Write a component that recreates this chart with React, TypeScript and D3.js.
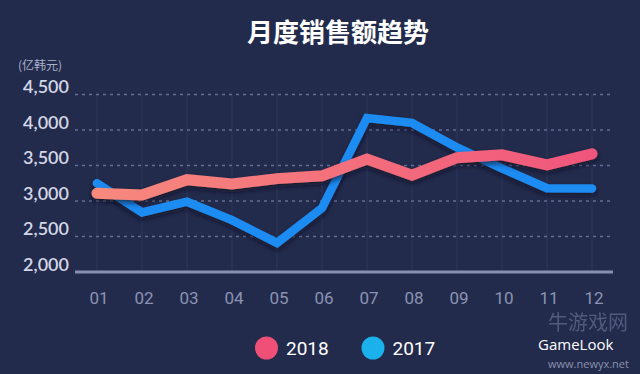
import React from "react";
import * as d3 from "d3";

const months = ["01", "02", "03", "04", "05", "06", "07", "08", "09", "10", "11", "12"];
const sales2018 = [3110, 3085, 3300, 3240, 3315, 3355, 3590, 3365, 3610, 3650, 3510, 3665];
const sales2017 = [3250, 2840, 2990, 2730, 2410, 2900, 4170, 4100, 3755, 3460, 3180, 3175];
const yTicks = [2000, 2500, 3000, 3500, 4000, 4500];
const title = "月度销售额趋势";
const unit = "(亿韩元)";
const legendItems = [
  { label: "2018", color: "#f04f78" },
  { label: "2017", color: "#1bb1ec" },
];

const W = 640;
const H = 374;
const BG = "#232b4c";

export default function App() {
  const x = d3.scalePoint<string>().domain(months).range([97, 592]);
  const y = d3.scaleLinear().domain([2000, 4500]).range([272, 94.5]);
  const line = d3
    .line<number>()
    .x((_, i) => x(months[i]) as number)
    .y((d) => y(d));
  const fmt = d3.format(",");

  return (
    <svg
      width={W}
      height={H}
      style={{ position: "absolute", left: 0, top: 0, display: "block" }}
    >
      <defs>
        <linearGradient id="pinkGrad" gradientUnits="userSpaceOnUse" x1={97} x2={592} y1={0} y2={0}>
          <stop offset="0%" stopColor="#f7897d" />
          <stop offset="100%" stopColor="#f0567b" />
        </linearGradient>
        <filter id="shadow" x="-10%" y="-30%" width="120%" height="160%">
          <feDropShadow dx="0" dy="3" stdDeviation="2.5" floodColor="#0b0f24" floodOpacity="0.7" />
        </filter>
      </defs>
      <rect x={0} y={0} width={W} height={H} fill={BG} />

      <text
        x={338}
        y={42}
        textAnchor="middle"
        fill="#ffffff"
        fontSize={26}
        fontWeight={700}
        fontFamily="'Noto Sans CJK SC', sans-serif"
      >
        {title}
      </text>
      <text
        x={18}
        y={70}
        fill="#a9b0c9"
        fontSize={12}
        fontFamily="'Noto Sans CJK SC', sans-serif"
      >
        {unit}
      </text>

      {/* vertical faint grid */}
      {months.map((m) => (
        <line
          key={"v" + m}
          x1={x(m)}
          x2={x(m)}
          y1={y(4500)}
          y2={y(2000)}
          stroke="#2e3760"
          strokeWidth={1}
        />
      ))}

      {/* horizontal dashed grid */}
      {yTicks.filter((t) => t > 2000).map((t) => (
        <line
          key={"h" + t}
          x1={75}
          x2={610}
          y1={y(t)}
          y2={y(t)}
          stroke="#646d90"
          strokeWidth={1.5}
          strokeDasharray="3,4"
        />
      ))}
      <line x1={75} x2={613} y1={y(2000)} y2={y(2000)} stroke="#8990b0" strokeWidth={3} />

      {yTicks.map((t) => (
        <text
          key={"yl" + t}
          x={69}
          y={y(t) - 1.5}
          textAnchor="end"
          fill="#d3d7e6"
          fontSize={18}
          fontWeight={600}
          fontFamily="Lato, 'Open Sans', sans-serif"
        >
          {fmt(t)}
        </text>
      ))}

      {months.map((m) => (
        <text
          key={"xl" + m}
          x={(x(m) as number) + 2}
          y={304}
          textAnchor="middle"
          fill="#8b93b4"
          fontSize={17}
          fontFamily="Roboto, sans-serif"
        >
          {m}
        </text>
      ))}

      <path
        d={line(sales2017) || ""}
        fill="none"
        stroke="#1e8bf2"
        strokeWidth={8.5}
        strokeLinecap="round"
        strokeLinejoin="miter"
        filter="url(#shadow)"
      />
      <path
        d={line(sales2018) || ""}
        fill="none"
        stroke="url(#pinkGrad)"
        strokeWidth={11}
        strokeLinecap="round"
        strokeLinejoin="miter"
        filter="url(#shadow)"
      />

      {legendItems.map((it, i) => (
        <g key={it.label} transform={`translate(${266.5 + i * 106.5},348)`}>
          <circle r={11.5} fill={it.color} />
          <text
            x={19.5}
            y={7}
            fill="#ffffff"
            fontSize={19}
            fontFamily="Roboto, sans-serif"
          >
            {it.label}
          </text>
        </g>
      ))}

      {/* watermark */}
      <text x={548} y={330} fill="#5d6588" fontSize={20} fontFamily="'Noto Sans CJK SC', sans-serif" opacity={0.8}>
        牛游戏网
      </text>
      <text x={538} y={350} fill="#ffffff" fontSize={15} fontFamily="'Open Sans', sans-serif">
        GameLook
      </text>
      <text x={548} y={368} fill="#8a91ad" fontSize={11} fontFamily="'Open Sans', sans-serif">
        www.newyx.net
      </text>
    </svg>
  );
}
